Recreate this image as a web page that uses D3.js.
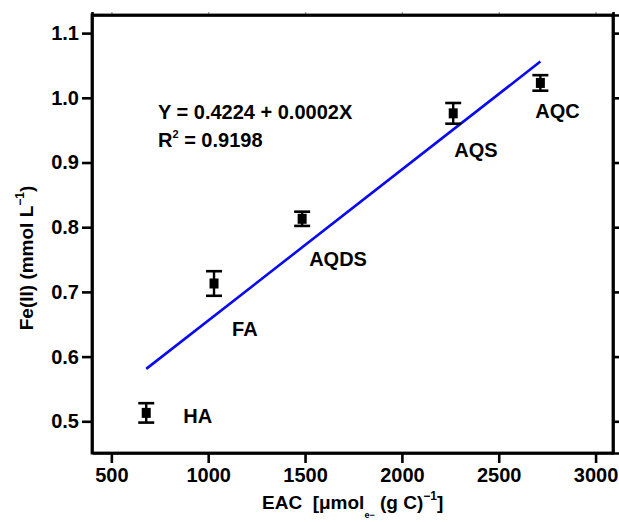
<!DOCTYPE html>
<html>
<head>
<meta charset="utf-8">
<title>Fe(II) vs EAC</title>
<script src="https://cdn.jsdelivr.net/npm/d3@7"></script>
<style>
    body {
        margin: 0;
        padding: 0;
        background: white;
        font-family: "Liberation Sans", Arial, sans-serif;
    }
    .axis text {
        font-size: 20px;
        font-weight: bold;
        fill: black;
    }
    .axis path, .axis line {
        stroke: black;
        stroke-width: 2.6;
    }
    .lbl {
        font-size: 20px;
        font-weight: bold;
    }
</style>
</head>
<body>
<div id="chart"></div>
<script>
    // samples
    var names = ["HA", "FA", "AQDS", "AQS", "AQC"];
    var eac = [680, 1030, 1485, 2265, 2715];
    var fe = [0.513, 0.713, 0.813, 0.976, 1.023];
    var feErr = [0.015, 0.019, 0.011, 0.016, 0.012];

    // linear fit, drawn between the end samples
    var fitX = [680, 2715];
    var fitY = [0.581, 1.056];

    var xTicks = [500, 1000, 1500, 2000, 2500, 3000];
    var yTicks = [0.5, 0.6, 0.7, 0.8, 0.9, 1.0, 1.1];

    // where each name sits relative to its point
    var labelOffset = {
        HA: [37, 10],
        FA: [18, 53],
        AQDS: [7, 47],
        AQS: [1, 44],
        AQC: [-5, 35]
    };

    var W = 619, H = 522;
    var margin = {top: 15, right: 6, bottom: 69, left: 92};

    var svg = d3.select("#chart").append("svg")
        .attr("width", W)
        .attr("height", H);

    var x = d3.scaleLinear()
        .domain([400, 3090])
        .range([margin.left, W - margin.right]);

    var y = d3.scaleLinear()
        .domain([0.451, 1.128])
        .range([H - margin.bottom, margin.top]);

    // mirror ticks on top and right
    svg.append("g")
        .attr("class", "axis")
        .attr("transform", "translate(0," + margin.top + ")")
        .call(d3.axisTop(x).tickValues(xTicks).tickSize(3).tickFormat(""))
        .selectAll("line").style("stroke", "#aaa").style("stroke-width", 1.5);

    svg.append("g")
        .attr("class", "axis")
        .attr("transform", "translate(" + (W - margin.right) + ",0)")
        .call(d3.axisRight(y).tickValues(yTicks).tickSize(6).tickFormat(""));

    svg.append("g")
        .attr("class", "axis")
        .attr("transform", "translate(0," + (H - margin.bottom) + ")")
        .call(d3.axisBottom(x).tickValues(xTicks).tickSize(10).tickSizeOuter(0).tickPadding(5)
            .tickFormat(d3.format("d")))
        .selectAll("text").attr("dy", "0.71em");

    svg.append("g")
        .attr("class", "axis")
        .attr("transform", "translate(" + margin.left + ",0)")
        .call(d3.axisLeft(y).tickValues(yTicks).tickSize(10).tickSizeOuter(0).tickPadding(3)
            .tickFormat(d3.format(".1f")));

    // frame
    svg.append("rect")
        .attr("x", margin.left)
        .attr("y", margin.top)
        .attr("width", W - margin.left - margin.right)
        .attr("height", H - margin.top - margin.bottom)
        .attr("fill", "none")
        .attr("stroke", "black")
        .attr("stroke-width", 2.8);

    // fit line
    svg.append("line")
        .attr("x1", x(fitX[0])).attr("y1", y(fitY[0]))
        .attr("x2", x(fitX[1])).attr("y2", y(fitY[1]))
        .attr("stroke", "#0a0af0")
        .attr("stroke-width", 2.6);

    var pts = svg.append("g")
        .selectAll("g")
        .data(names)
        .enter()
        .append("g");

    // error bars
    pts.append("line")
        .attr("x1", function (d, i) { return x(eac[i]); })
        .attr("x2", function (d, i) { return x(eac[i]); })
        .attr("y1", function (d, i) { return y(fe[i] + feErr[i]); })
        .attr("y2", function (d, i) { return y(fe[i] - feErr[i]); })
        .attr("stroke", "black")
        .attr("stroke-width", 2.4);

    [1, -1].forEach(function (s) {
        pts.append("line")
            .attr("x1", function (d, i) { return x(eac[i]) - 8; })
            .attr("x2", function (d, i) { return x(eac[i]) + 8; })
            .attr("y1", function (d, i) { return y(fe[i] + s * feErr[i]); })
            .attr("y2", function (d, i) { return y(fe[i] + s * feErr[i]); })
            .attr("stroke", "black")
            .attr("stroke-width", 2.6);
    });

    pts.append("rect")
        .attr("x", function (d, i) { return x(eac[i]) - 4.5; })
        .attr("y", function (d, i) { return y(fe[i]) - 5; })
        .attr("width", 9)
        .attr("height", 10)
        .attr("fill", "black");

    pts.append("text")
        .attr("class", "lbl")
        .attr("x", function (d, i) { return x(eac[i]) + labelOffset[d][0]; })
        .attr("y", function (d, i) { return y(fe[i]) + labelOffset[d][1]; })
        .text(function (d) { return d; });

    // equation
    var eq = svg.append("g")
        .attr("font-size", "20px")
        .attr("font-weight", "bold");

    eq.append("text")
        .attr("x", 158).attr("y", 119)
        .text("Y = 0.4224 + 0.0002X");

    var r2 = eq.append("text")
        .attr("x", 158).attr("y", 147);
    r2.append("tspan").text("R");
    r2.append("tspan").attr("font-size", "11px").attr("dy", -9).text("2");
    r2.append("tspan").attr("dy", 9).text(" = 0.9198");

    // axis titles
    var xt = svg.append("text")
        .attr("x", 262)
        .attr("y", 509)
        .attr("font-size", "19px")
        .attr("font-weight", "bold");
    xt.append("tspan").text("EAC\u00a0\u00a0[\u03bcmol");
    xt.append("tspan").attr("font-size", "9px").attr("dy", 9).text("e\u2212");
    xt.append("tspan").attr("dy", -9).text(" (g C)");
    xt.append("tspan").attr("font-size", "12px").attr("dy", -9).text("\u22121");
    xt.append("tspan").attr("dy", 9).text("]");

    var yt = svg.append("text")
        .attr("transform", "translate(33,258) rotate(-90)")
        .attr("text-anchor", "middle")
        .attr("font-size", "19px")
        .attr("font-weight", "bold");
    yt.append("tspan").text("Fe(II) (mmol L");
    yt.append("tspan").attr("font-size", "12px").attr("dy", -9).text("\u22121");
    yt.append("tspan").attr("dy", 9).text(")");
</script>
</body>
</html>
